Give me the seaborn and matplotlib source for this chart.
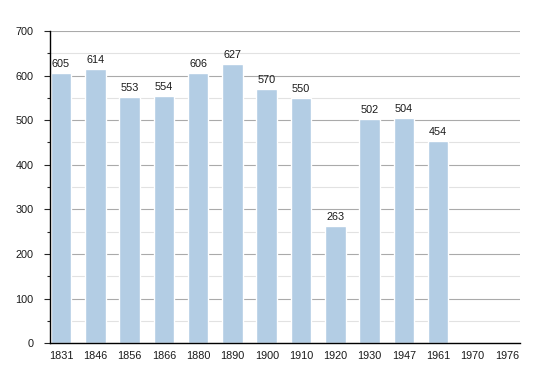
import numpy as np
import pandas as pd
import matplotlib
matplotlib.use("Agg")
import matplotlib.pyplot as plt
import seaborn as sns
from matplotlib.ticker import MultipleLocator

# Population by census year (no figures for 1970 and 1976)
years = ["1831", "1846", "1856", "1866", "1880", "1890", "1900",
         "1910", "1920", "1930", "1947", "1961", "1970", "1976"]
population = [605, 614, 553, 554, 606, 627, 570,
              550, 263, 502, 504, 454, np.nan, np.nan]

BAR_COLOR = "#b3cde4"

df = pd.DataFrame({"year": years, "pop": population})

sns.set_style("white")
plt.rcParams["font.family"] = ["Liberation Sans", "DejaVu Sans"]

fig = plt.figure(figsize=(5.5, 3.73), dpi=100)
ax = fig.add_axes([0.091, 0.080, 0.854, 0.837])

sns.barplot(data=df, x="year", y="pop", order=years, color=BAR_COLOR,
            width=0.6, saturation=1, ax=ax, zorder=2)

# value labels above bars
for i, v in enumerate(population):
    if not np.isnan(v):
        ax.text(i, v + 9, f"{int(v)}", ha="center", va="bottom",
                fontsize=7.8, color="#1a1a1a")

ax.set_ylim(0, 700)
ax.set_xlim(-0.32, len(years) - 0.62)
ax.yaxis.set_major_locator(MultipleLocator(100))
ax.yaxis.set_minor_locator(MultipleLocator(50))
ax.grid(axis="y", which="major", color="#aaaaaa", linewidth=0.8, zorder=0)
ax.grid(axis="y", which="minor", color="#e2e2e2", linewidth=0.8, zorder=0)
ax.set_axisbelow(True)

for side in ["top", "right"]:
    ax.spines[side].set_visible(False)
ax.spines["left"].set_color("black")
ax.spines["bottom"].set_color("black")
ax.spines["left"].set_linewidth(1)
ax.spines["bottom"].set_linewidth(1)

ax.tick_params(axis="y", which="major", left=True, length=4, width=0.8,
               labelsize=7.8, pad=8, labelcolor="#1a1a1a")
ax.tick_params(axis="y", which="minor", left=True, length=2, width=0.8)
ax.tick_params(axis="x", bottom=False, labelsize=7.8, pad=2,
               labelcolor="#1a1a1a")
ax.set_xlabel("")
ax.set_ylabel("")

fig.savefig("out.png", dpi=100)
